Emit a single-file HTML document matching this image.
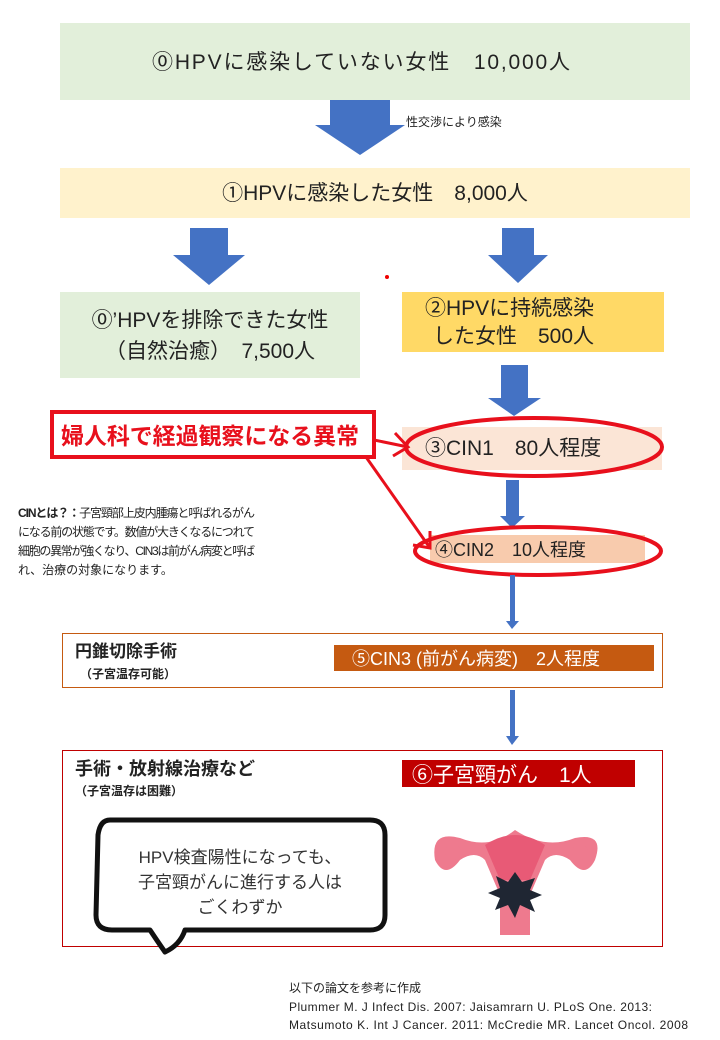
<!DOCTYPE html>
<html><head><meta charset="utf-8"><style>
html,body{margin:0;padding:0;background:#fff;}
svg{display:block;}
text{font-family:"Liberation Sans","Noto Sans CJK JP",sans-serif;}
</style></head><body>
<svg width="720" height="1040" viewBox="0 0 720 1040" xmlns="http://www.w3.org/2000/svg">
<rect x="60" y="23" width="630" height="77" fill="#e2efda"/>
<text x="152" y="69" font-size="21" fill="#222" textLength="418">⓪HPVに感染していない女性　10,000人</text>
<polygon points="330,100 390,100 390,125 405,125 360,155 315,125 330,125" fill="#4472c4"/>
<text x="406" y="126" font-size="12" fill="#222">性交渉により感染</text>
<rect x="60" y="168" width="630" height="50" fill="#fff2cc"/>
<text x="375" y="200" font-size="21" text-anchor="middle" fill="#222">①HPVに感染した女性　8,000人</text>
<polygon points="190,228 228,228 228,255 245,255 209,285 173,255 190,255" fill="#4472c4"/>
<polygon points="502,228 534,228 534,255 548,255 518,283 488,255 502,255" fill="#4472c4"/>
<circle cx="387" cy="277" r="2" fill="#e00"/>
<rect x="60" y="292" width="300" height="86" fill="#e2efda"/>
<text x="210" y="327" font-size="21" text-anchor="middle" fill="#222">⓪’HPVを排除できた女性</text>
<text x="210" y="358" font-size="21" text-anchor="middle" fill="#222">（自然治癒）　7,500人</text>
<rect x="402" y="292" width="262" height="60" fill="#ffd966"/>
<text x="425" y="315" font-size="21" fill="#222">②HPVに持続感染</text>
<text x="433" y="343" font-size="21" fill="#222">した女性　500人</text>
<polygon points="501,365 528,365 528,398 541,398 514,416 488,398 501,398" fill="#4472c4"/>
<rect x="402" y="427" width="260" height="43" fill="#fbe5d6"/>
<text x="425" y="455" font-size="21" fill="#222">③CIN1　80人程度</text>
<ellipse cx="534" cy="447" rx="128" ry="29" fill="none" stroke="#e8101c" stroke-width="4"/>
<rect x="506" y="480" width="13" height="38" fill="#4472c4"/>
<polygon points="500,516 525,516 512,528" fill="#4472c4"/>
<rect x="430" y="535" width="215" height="28" fill="#f8cbad"/>
<text x="435" y="556" font-size="18" fill="#222">④CIN2　10人程度</text>
<ellipse cx="538" cy="551" rx="123" ry="24" fill="none" stroke="#e8101c" stroke-width="4"/>
<rect x="52" y="412" width="322" height="45" fill="#fff" stroke="#e8101c" stroke-width="4"/>
<text x="61" y="444" font-size="23" font-weight="bold" fill="#e8101c" textLength="298">婦人科で経過観察になる異常</text>
<line x1="374" y1="440" x2="408" y2="447" stroke="#e8101c" stroke-width="3"/>
<polyline points="395,433 408,447 393,456" fill="none" stroke="#e8101c" stroke-width="3"/>
<line x1="366" y1="457" x2="430" y2="548" stroke="#e8101c" stroke-width="3"/>
<polyline points="430,531 430,548 413,545" fill="none" stroke="#e8101c" stroke-width="3"/>
<text font-size="12" fill="#222"><tspan x="18" y="517" textLength="237"><tspan font-weight="bold">CINとは？：</tspan>子宮頸部上皮内腫瘍と呼ばれるがん</tspan></text>
<text font-size="12" fill="#222" x="18" y="536" textLength="237">になる前の状態です。数値が大きくなるにつれて</text>
<text font-size="12" fill="#222" x="18" y="555" textLength="237">細胞の異常が強くなり、CIN3は前がん病変と呼ば</text>
<text font-size="12" fill="#222" x="18" y="574">れ、治療の対象になります。</text>
<rect x="510" y="575" width="5" height="48" fill="#4472c4"/>
<polygon points="506,621 519,621 512,629" fill="#4472c4"/>
<rect x="62.5" y="633.5" width="600" height="54" fill="none" stroke="#c55a11" stroke-width="1"/>
<text x="75" y="657" font-size="17" font-weight="bold" fill="#222">円錐切除手術</text>
<text x="80" y="678" font-size="12" font-weight="bold" fill="#222">（子宮温存可能）</text>
<rect x="334" y="645" width="320" height="26" fill="#c55a11"/>
<text x="352" y="665" font-size="18" fill="#fff">⑤CIN3 (前がん病変)　2人程度</text>
<rect x="510" y="690" width="5" height="48" fill="#4472c4"/>
<polygon points="506,736 519,736 512,745" fill="#4472c4"/>
<rect x="62.5" y="750.5" width="600" height="196" fill="none" stroke="#c00000" stroke-width="1"/>
<text x="75" y="775" font-size="18" font-weight="bold" fill="#222">手術・放射線治療など</text>
<text x="75" y="795" font-size="12" font-weight="bold" fill="#222">（子宮温存は困難）</text>
<rect x="402" y="760" width="233" height="27" fill="#c00000"/>
<text x="412" y="782" font-size="21" fill="#fff">⑥子宮頸がん　1人</text>
<path d="M110,820 Q100,820 98,835 L96,915 Q96,930 112,930 L150,930 Q160,945 165,952 Q180,945 185,930 L370,930 Q385,930 385,915 L385,835 Q385,820 370,820 Z" fill="#fff" stroke="#111" stroke-width="5" stroke-linejoin="round"/>
<text font-size="17" fill="#333" text-anchor="middle"><tspan x="240" y="863">HPV検査陽性になっても、</tspan><tspan x="240" y="888">子宮頸がんに進行する人は</tspan><tspan x="240" y="913">ごくわずか</tspan></text>
<g>
<path d="M435,860 Q430,830 460,838 Q490,850 515,830 Q545,850 575,838 Q605,832 595,860 Q585,880 570,860 Q555,850 545,860 L530,895 L530,935 L500,935 L500,895 L485,860 Q475,850 460,860 Q445,880 435,860 Z" fill="#ee7a8e"/>
<path d="M485,845 Q515,825 545,845 L530,880 L500,880 Z" fill="#e85a76"/>
<circle cx="453" cy="852" r="8" fill="#ee7a8e"/>
<circle cx="580" cy="852" r="8" fill="#ee7a8e"/>
<polygon points="515,872 522,882 535,878 530,890 542,895 530,900 535,912 520,905 515,918 508,905 495,910 500,898 488,893 500,888 496,876 508,882" fill="#1f2633"/>
</g>
<text x="289" y="992" font-size="12" fill="#222">以下の論文を参考に作成</text>
<text x="289" y="1011" font-size="12" fill="#222" textLength="363">Plummer M. J Infect Dis. 2007:  Jaisamrarn U. PLoS One. 2013:</text>
<text x="289" y="1029" font-size="12" fill="#222" textLength="399">Matsumoto K. Int J Cancer. 2011:  McCredie MR.  Lancet Oncol. 2008</text>
</svg>
</body></html>
